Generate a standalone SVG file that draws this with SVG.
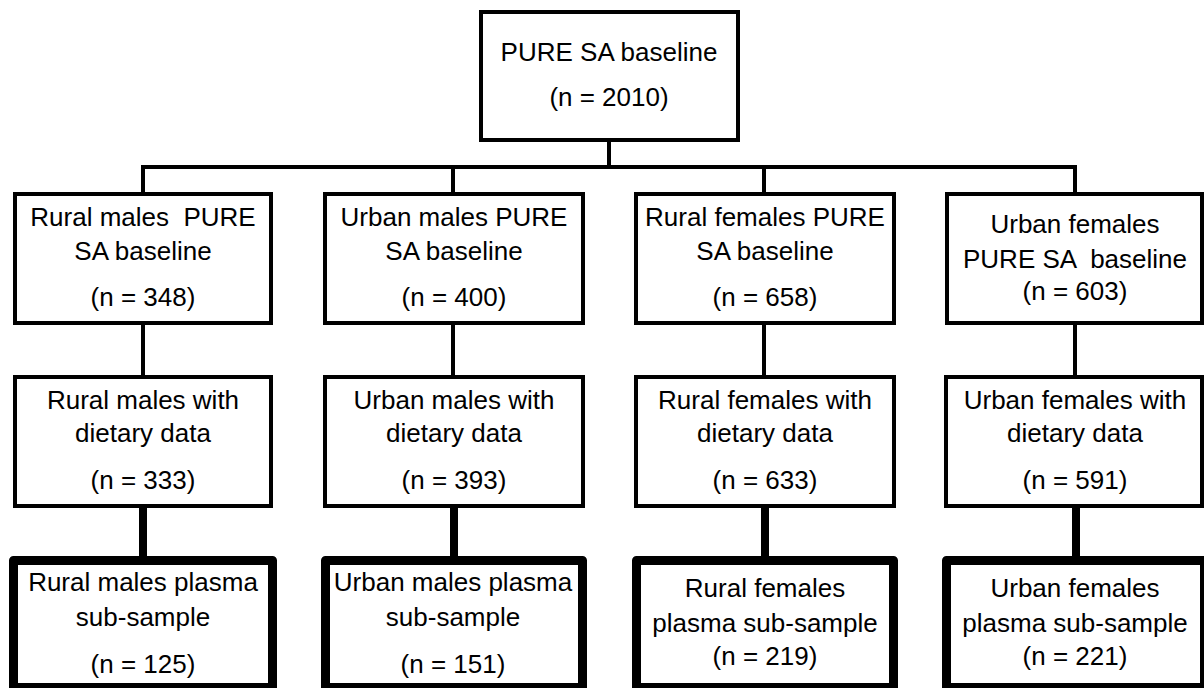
<svg xmlns="http://www.w3.org/2000/svg" width="1204" height="688" viewBox="0 0 1204 688">
<style>
.box{fill:#fff;stroke:#000;stroke-width:4}
.thick{fill:#fff;stroke:#000;stroke-width:9;stroke-linejoin:round}
.lbl{font-family:"Liberation Sans",Arial,sans-serif;font-size:26px;fill:#000;text-anchor:middle}
.c{stroke:#000;stroke-width:4;fill:none}
.ct{stroke:#000;stroke-width:8;fill:none}
</style>
<rect width="1204" height="688" fill="#fff"/>
<g id="connectors">
<line class="c" x1="609" y1="140" x2="609" y2="167"/>
<line class="c" x1="141" y1="167" x2="1077" y2="167"/>
<line class="c" x1="143" y1="167" x2="143" y2="194"/>
<line class="c" x1="453" y1="167" x2="453" y2="194"/>
<line class="c" x1="764" y1="167" x2="764" y2="194"/>
<line class="c" x1="1075" y1="167" x2="1075" y2="194"/>
<line class="c" x1="143" y1="323" x2="143" y2="377"/>
<line class="c" x1="453" y1="323" x2="453" y2="377"/>
<line class="c" x1="764" y1="323" x2="764" y2="377"/>
<line class="c" x1="1075" y1="323" x2="1075" y2="377"/>
<line class="ct" x1="143" y1="506" x2="143" y2="560"/>
<line class="ct" x1="454" y1="506" x2="454" y2="560"/>
<line class="ct" x1="765" y1="506" x2="765" y2="560"/>
<line class="ct" x1="1076" y1="506" x2="1076" y2="560"/>
</g>
<g id="top">
<rect class="box" x="481" y="12" width="257" height="128"/>
<text class="lbl" x="609" y="61">PURE SA baseline</text>
<text class="lbl" x="609" y="106">(n = 2010)</text>
</g>
<g id="r1m">
<rect class="box" x="15" y="194" width="256" height="129"/>
<text class="lbl" x="143" y="226" xml:space="preserve">Rural males  PURE</text>
<text class="lbl" x="143" y="260">SA baseline</text>
<text class="lbl" x="143" y="306">(n = 348)</text>
</g>
<g id="u1m">
<rect class="box" x="325" y="194" width="258" height="129"/>
<text class="lbl" x="454" y="226">Urban males PURE</text>
<text class="lbl" x="454" y="260">SA baseline</text>
<text class="lbl" x="454" y="306">(n = 400)</text>
</g>
<g id="r1f">
<rect class="box" x="636" y="194" width="258" height="129"/>
<text class="lbl" x="765" y="226">Rural females PURE</text>
<text class="lbl" x="765" y="260">SA baseline</text>
<text class="lbl" x="765" y="306">(n = 658)</text>
</g>
<g id="u1f">
<rect class="box" x="947" y="194" width="255" height="129"/>
<text class="lbl" x="1075" y="233">Urban females</text>
<text class="lbl" x="1075" y="268" xml:space="preserve">PURE SA  baseline</text>
<text class="lbl" x="1075" y="300">(n = 603)</text>
</g>
<g id="r2m">
<rect class="box" x="15" y="377" width="256" height="129"/>
<text class="lbl" x="143" y="409">Rural males with</text>
<text class="lbl" x="143" y="442">dietary data</text>
<text class="lbl" x="143" y="489">(n = 333)</text>
</g>
<g id="u2m">
<rect class="box" x="325" y="377" width="258" height="129"/>
<text class="lbl" x="454" y="409">Urban males with</text>
<text class="lbl" x="454" y="442">dietary data</text>
<text class="lbl" x="454" y="489">(n = 393)</text>
</g>
<g id="r2f">
<rect class="box" x="636" y="377" width="258" height="129"/>
<text class="lbl" x="765" y="409">Rural females with</text>
<text class="lbl" x="765" y="442">dietary data</text>
<text class="lbl" x="765" y="489">(n = 633)</text>
</g>
<g id="u2f">
<rect class="box" x="946" y="377" width="256" height="129"/>
<text class="lbl" x="1075" y="409">Urban females with</text>
<text class="lbl" x="1075" y="442">dietary data</text>
<text class="lbl" x="1075" y="489">(n = 591)</text>
</g>
<g id="r3m">
<rect class="thick" x="13.5" y="560.5" width="259" height="127"/>
<text class="lbl" x="143" y="591">Rural males plasma</text>
<text class="lbl" x="143" y="626">sub-sample</text>
<text class="lbl" x="143" y="673">(n = 125)</text>
</g>
<g id="u3m">
<rect class="thick" x="325.5" y="560.5" width="257" height="127"/>
<text class="lbl" x="453" y="591">Urban males plasma</text>
<text class="lbl" x="453" y="626">sub-sample</text>
<text class="lbl" x="453" y="673">(n = 151)</text>
</g>
<g id="r3f">
<rect class="thick" x="636.5" y="560.5" width="257" height="127"/>
<text class="lbl" x="765" y="597">Rural females</text>
<text class="lbl" x="765" y="632">plasma sub-sample</text>
<text class="lbl" x="765" y="665">(n = 219)</text>
</g>
<g id="u3f">
<rect class="thick" x="946.5" y="560.5" width="258" height="127"/>
<text class="lbl" x="1075" y="597">Urban females</text>
<text class="lbl" x="1075" y="632">plasma sub-sample</text>
<text class="lbl" x="1075" y="665">(n = 221)</text>
</g>
</svg>
